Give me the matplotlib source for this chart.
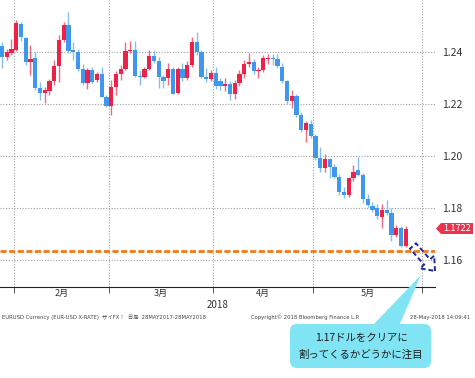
import matplotlib
matplotlib.use('Agg')
import matplotlib.pyplot as plt
import numpy as np
from matplotlib.patches import FancyBboxPatch, Polygon, FancyArrow

plt.rcParams['font.family'] = ['Noto Sans CJK JP', 'DejaVu Sans']

# EUR/USD 日足 (2018/01/29 - 2018/05/28) 画像から読み取り
opens = [1.2424, 1.2381, 1.2399, 1.2409, 1.2509, 1.2454, 1.2364, 1.2377, 1.2261, 1.2245,
         1.2252, 1.2291, 1.2349, 1.2447, 1.2505, 1.2409, 1.2400, 1.2335, 1.2283, 1.2332,
         1.2294, 1.2317, 1.2229, 1.2194, 1.2265, 1.2317, 1.2336, 1.2403, 1.2409, 1.2309,
         1.2306, 1.2335, 1.2386, 1.2368, 1.2304, 1.2300, 1.2335, 1.2243, 1.2335, 1.2300,
         1.2351, 1.2441, 1.2400, 1.2306, 1.2297, 1.2322, 1.2288, 1.2271, 1.2278, 1.2240,
         1.2281, 1.2317, 1.2355, 1.2364, 1.2326, 1.2330, 1.2373, 1.2378, 1.2375, 1.2345,
         1.2288, 1.2211, 1.2230, 1.2159, 1.2101, 1.2124, 1.2078, 1.1992, 1.1954, 1.1988,
         1.1960, 1.1922, 1.1864, 1.1851, 1.1915, 1.1946, 1.1927, 1.1837, 1.1808, 1.1800,
         1.1767, 1.1792, 1.1780, 1.1697, 1.1723, 1.1656]
highs = [1.2441, 1.2412, 1.2450, 1.2524, 1.2518, 1.2460, 1.2428, 1.2402, 1.2287, 1.2268,
         1.2296, 1.2370, 1.2467, 1.2518, 1.2553, 1.2441, 1.2412, 1.2356, 1.2339, 1.2345,
         1.2325, 1.2345, 1.2236, 1.2294, 1.2326, 1.2351, 1.2441, 1.2445, 1.2445, 1.2332,
         1.2345, 1.2407, 1.2409, 1.2383, 1.2313, 1.2358, 1.2345, 1.2345, 1.2360, 1.2365,
         1.2460, 1.2477, 1.2410, 1.2340, 1.2330, 1.2345, 1.2300, 1.2300, 1.2290, 1.2292,
         1.2330, 1.2370, 1.2396, 1.2375, 1.2345, 1.2390, 1.2395, 1.2395, 1.2395, 1.2357,
         1.2295, 1.2255, 1.2240, 1.2170, 1.2135, 1.2140, 1.2085, 1.2035, 1.2010, 1.1995,
         1.1970, 1.1930, 1.1880, 1.1922, 1.1965, 1.1996, 1.1935, 1.1855, 1.1825, 1.1815,
         1.1818, 1.1830, 1.1800, 1.1735, 1.1730, 1.1730]
lows = [1.2338, 1.2370, 1.2390, 1.2406, 1.2445, 1.2351, 1.2313, 1.2255, 1.2217, 1.2206,
        1.2236, 1.2274, 1.2287, 1.2440, 1.2396, 1.2370, 1.2326, 1.2275, 1.2260, 1.2281,
        1.2287, 1.2226, 1.2191, 1.2159, 1.2236, 1.2294, 1.2332, 1.2399, 1.2304, 1.2274,
        1.2300, 1.2330, 1.2357, 1.2261, 1.2261, 1.2275, 1.2239, 1.2238, 1.2290, 1.2292,
        1.2345, 1.2390, 1.2300, 1.2285, 1.2290, 1.2260, 1.2255, 1.2250, 1.2217, 1.2220,
        1.2270, 1.2300, 1.2345, 1.2318, 1.2300, 1.2325, 1.2355, 1.2350, 1.2340, 1.2280,
        1.2200, 1.2185, 1.2150, 1.2095, 1.2056, 1.2070, 1.1985, 1.1940, 1.1940, 1.1915,
        1.1915, 1.1850, 1.1838, 1.1845, 1.1905, 1.1925, 1.1820, 1.1805, 1.1785, 1.1760,
        1.1725, 1.1775, 1.1675, 1.1690, 1.1650, 1.1650]
closes = [1.2381, 1.2400, 1.2411, 1.2512, 1.2460, 1.2364, 1.2374, 1.2261, 1.2245, 1.2255,
          1.2291, 1.2349, 1.2447, 1.2505, 1.2406, 1.2401, 1.2335, 1.2283, 1.2332, 1.2287,
          1.2317, 1.2229, 1.2194, 1.2265, 1.2317, 1.2336, 1.2403, 1.2409, 1.2309, 1.2306,
          1.2335, 1.2386, 1.2368, 1.2304, 1.2290, 1.2335, 1.2240, 1.2335, 1.2300, 1.2351,
          1.2441, 1.2400, 1.2306, 1.2297, 1.2322, 1.2271, 1.2269, 1.2278, 1.2240, 1.2281,
          1.2317, 1.2355, 1.2364, 1.2326, 1.2330, 1.2377, 1.2378, 1.2373, 1.2349, 1.2288,
          1.2211, 1.2230, 1.2159, 1.2101, 1.2129, 1.2078, 1.1992, 1.1954, 1.1988, 1.1960,
          1.1922, 1.1864, 1.1851, 1.1915, 1.1941, 1.1927, 1.1837, 1.1812, 1.1792, 1.1770,
          1.1792, 1.1780, 1.1697, 1.1723, 1.1656, 1.1722]

month_labels = ['2月', '3月', '4月', '5月']
month_starts = [3, 23, 45, 66, 89]   # 各月の最初の営業日のインデックス
year_label = '2018'
y_ticks = [1.16, 1.18, 1.20, 1.22, 1.24]
support_level = 1.1637
callout_lines = ['1.17ドルをクリアに', '割ってくるかどうかに注目']

RED, RED_WICK = '#EE2248', '#F26A82'
BLUE, BLUE_WICK = '#3F98EE', '#86BDF2'
W, H = 475, 378

fig = plt.figure(figsize=(W / 100, H / 100), dpi=100)
ax = fig.add_axes([0, 1 - 287 / H, 435 / W, 287 / H])

o, h, l, c = map(np.array, (opens, highs, lows, closes))
x = np.arange(len(o))
up = c >= o
body_bot = np.minimum(o, c)
body_h = np.maximum(np.abs(c - o), 0.0004)

ax.vlines(x[up], l[up], h[up], color=RED_WICK, lw=1, zorder=2)
ax.vlines(x[~up], l[~up], h[~up], color=BLUE_WICK, lw=1, zorder=2)
ax.bar(x[up], body_h[up], 0.9, body_bot[up], color=RED, zorder=3)
ax.bar(x[~up], body_h[~up], 0.9, body_bot[~up], color=BLUE, zorder=3)

# 1.17 付近のサポートライン
sl = ax.axhline(support_level, color='#F07A1C', lw=2.0, zorder=4)
sl.set_dashes([2.2, 0.9])

ax.set_xlim(-0.42, 91.16)
ax.set_ylim(1.1497, 1.2601)

bounds = np.array(month_starts) - 0.5
ax.set_xticks(bounds)
ax.set_xticklabels([])
ax.set_xticks((bounds[:-1] + bounds[1:]) / 2, minor=True)
ax.set_xticklabels(month_labels, minor=True, fontsize=6.5, color='#333333')
ax.tick_params(axis='x', which='major', length=4, width=0.7, color='#555555', direction='out')
ax.tick_params(axis='x', which='minor', length=0, pad=1.5)

ax.yaxis.tick_right()
ax.set_yticks(y_ticks)
ax.set_yticklabels([f'{v:.2f}' for v in y_ticks], fontsize=7.5, color='#333333')
ax.tick_params(axis='y', length=0, pad=5)

ax.grid(True, which='major', color='#a0a0a0', lw=0.8, linestyle=(0, (1, 1.5)))
for s in ['left', 'top', 'right']:
    ax.spines[s].set_visible(False)
ax.spines['bottom'].set_color('#222222')
ax.spines['bottom'].set_linewidth(0.8)

# 注記用オーバーレイ (ピクセル座標)
ov = fig.add_axes([0, 0, 1, 1], zorder=5)
ov.set_xlim(0, W)
ov.set_ylim(H, 0)
ov.axis('off')
ov.patch.set_alpha(0)

fig.canvas.draw()
y_last = H - ax.transData.transform((0, c[-1]))[1]
ov.add_patch(Polygon([(436, y_last), (441, y_last - 5.5), (473, y_last - 5.5),
                      (473, y_last + 5.5), (441, y_last + 5.5)], closed=True,
                     fc='#E8344F', ec='none'))
ov.text(457, y_last, f'{c[-1]:.4f}', color='white', fontsize=6.5, ha='center', va='center')

ov.text(218, 305, year_label, fontsize=7, color='#333333', ha='center', va='center')

foot = dict(fontsize=3.8, color='#444444', va='center', family=['DejaVu Sans', 'Noto Sans CJK JP'])
ov.text(2, 317, 'EURUSD Currency (EUR-USD X-RATE)  ザイFX！  日足  28MAY2017-28MAY2018', **foot)
ov.text(251, 317, 'Copyright© 2018 Bloomberg Finance L.P.', **foot)
ov.text(410, 317, '28-May-2018 14:09:41', **foot)

# 下抜けを示す破線矢印
ov.add_patch(FancyArrow(413, 246, 22, 25, width=8, head_width=19, head_length=12,
                        length_includes_head=True, fill=False, ec='#1E2A9C', lw=1.4,
                        ls=(0, (2.5, 1.5)), zorder=6))

# 吹き出し
cyan = '#80E4F4'
ov.add_patch(FancyBboxPatch((290, 324), 141, 44, boxstyle='round,pad=0,rounding_size=7',
                            fc=cyan, ec='none'))
ov.add_patch(Polygon([(372, 326), (399, 326), (421, 275)], closed=True, fc=cyan, ec='none'))
ov.text(361, 338, callout_lines[0], fontsize=7.5, color='#1a1a1a', ha='center', va='center')
ov.text(361, 355, callout_lines[1], fontsize=7.5, color='#1a1a1a', ha='center', va='center')

fig.savefig('out.png', dpi=100)
